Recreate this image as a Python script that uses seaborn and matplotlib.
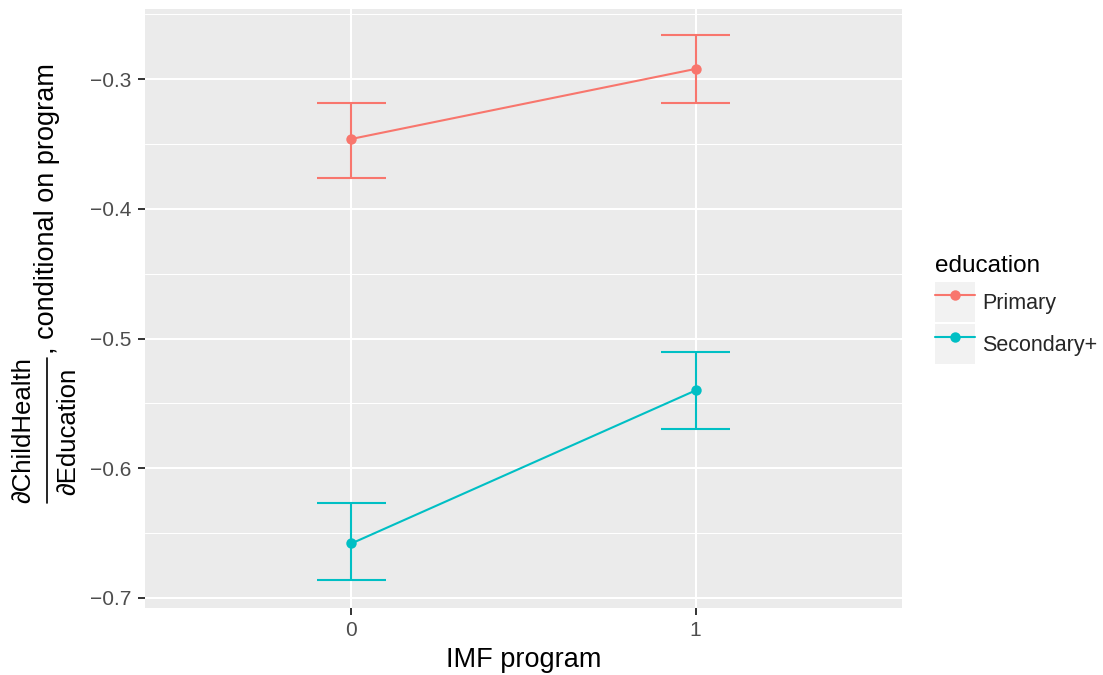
import matplotlib
matplotlib.use("Agg")
import matplotlib.pyplot as plt
import seaborn as sns
import pandas as pd
from matplotlib.lines import Line2D
from matplotlib.patches import Patch
from matplotlib.legend_handler import HandlerTuple
from matplotlib.ticker import FixedLocator

# ---- data ----
programs = [0, 1]
program_labels = ["0", "1"]
education = ["Primary", "Secondary+"]
primary_est = [-0.346, -0.292]
primary_lo = [-0.376, -0.318]
primary_hi = [-0.318, -0.266]
secondary_est = [-0.658, -0.540]
secondary_lo = [-0.686, -0.570]
secondary_hi = [-0.627, -0.510]
colors = ["#F8766D", "#00BFC4"]
y_ticks = [-0.7, -0.6, -0.5, -0.4, -0.3]
y_minor = [-0.65, -0.55, -0.45, -0.35, -0.25]

df = pd.DataFrame({
    "program": programs * 2,
    "education": [education[0]] * 2 + [education[1]] * 2,
    "estimate": primary_est + secondary_est,
    "lo": primary_lo + secondary_lo,
    "hi": primary_hi + secondary_hi,
})

sns.set_theme(style="darkgrid")
plt.rcParams["font.family"] = ["Liberation Sans", "DejaVu Sans"]

W, H = 1103, 675
fig = plt.figure(figsize=(W / 100, H / 100), dpi=100)
ax = fig.add_axes([145 / W, 1 - 607.5 / H, 757 / W, 599 / H])
ax.set_facecolor("#EBEBEB")

palette = dict(zip(education, colors))

# error bars (drawn from data)
for _, r in df.iterrows():
    c = palette[r["education"]]
    ax.vlines(r["program"], r["lo"], r["hi"], color=c, lw=1.5, zorder=3)
    ax.hlines([r["lo"], r["hi"]], r["program"] - 0.1, r["program"] + 0.1,
              color=c, lw=1.5, zorder=3)

sns.lineplot(data=df, x="program", y="estimate", hue="education",
             hue_order=education, palette=palette, marker="o",
             markersize=7.5, markeredgewidth=0, linewidth=1.5,
             errorbar=None, legend=False, ax=ax, zorder=4)

ax.set_xlim(-0.6, 1.6)
ax.set_ylim(-0.7074, -0.2454)
ax.set_xticks(programs)
ax.set_xticklabels(program_labels)
ax.set_yticks(y_ticks)
ax.set_yticklabels([f"{v:.1f}".replace("-", "\u2212") for v in y_ticks])
ax.yaxis.set_minor_locator(FixedLocator(y_minor))

ax.grid(True, which="major", color="white", lw=1.5)
ax.grid(True, which="minor", axis="y", color="white", lw=0.75)
ax.set_axisbelow(True)
for s in ax.spines.values():
    s.set_visible(False)

ax.tick_params(axis="both", which="major", length=5, width=1.4,
               color="#333333", labelcolor="#4D4D4D", labelsize=15, pad=4.5,
               left=True, bottom=True)
ax.tick_params(axis="both", which="minor", length=0)

ax.set_xlabel("IMF program", fontsize=19.5, color="black", labelpad=5)
ax.set_ylabel("")

# y-axis title: fraction  dChildHealth / dEducation , conditional on program
fs_frac = 18.5
fig.text(23 / W, 1 - 430.5 / H, "\u2202ChildHealth", rotation=90,
         ha="center", va="center", fontsize=fs_frac, color="black")
fig.text(68 / W, 1 - 431.5 / H, "\u2202Education", rotation=90,
         ha="center", va="center", fontsize=fs_frac, color="black")
fig.add_artist(Line2D([47 / W, 47 / W], [1 - 358 / H, 1 - 503 / H],
                      transform=fig.transFigure, color="black", lw=1.2))
fig.text(47 / W, 1 - 354 / H, ", conditional on program", rotation=90,
         ha="center", va="bottom", fontsize=19.5, color="black")

# legend
fig.text(935 / W, 1 - 272 / H, "education", ha="left", va="baseline",
         fontsize=17.5, color="black")
handles = [(Patch(facecolor="#F2F2F2", edgecolor="none"),
            Line2D([], [], color=c, lw=1.5, marker="o", markersize=7.5,
                   markeredgewidth=0)) for c in colors]
leg = fig.legend(handles, education,
                 handler_map={tuple: HandlerTuple(ndivide=1, pad=0)},
                 loc="upper left", bbox_to_anchor=(935 / W, 1 - 282 / H),
                 frameon=False, fontsize=15.5,
                 handlelength=1.86, handleheight=2.48, labelspacing=0.093,
                 handletextpad=0.33, borderpad=0, borderaxespad=0)

fig.savefig("out.png", dpi=100, facecolor="white")
